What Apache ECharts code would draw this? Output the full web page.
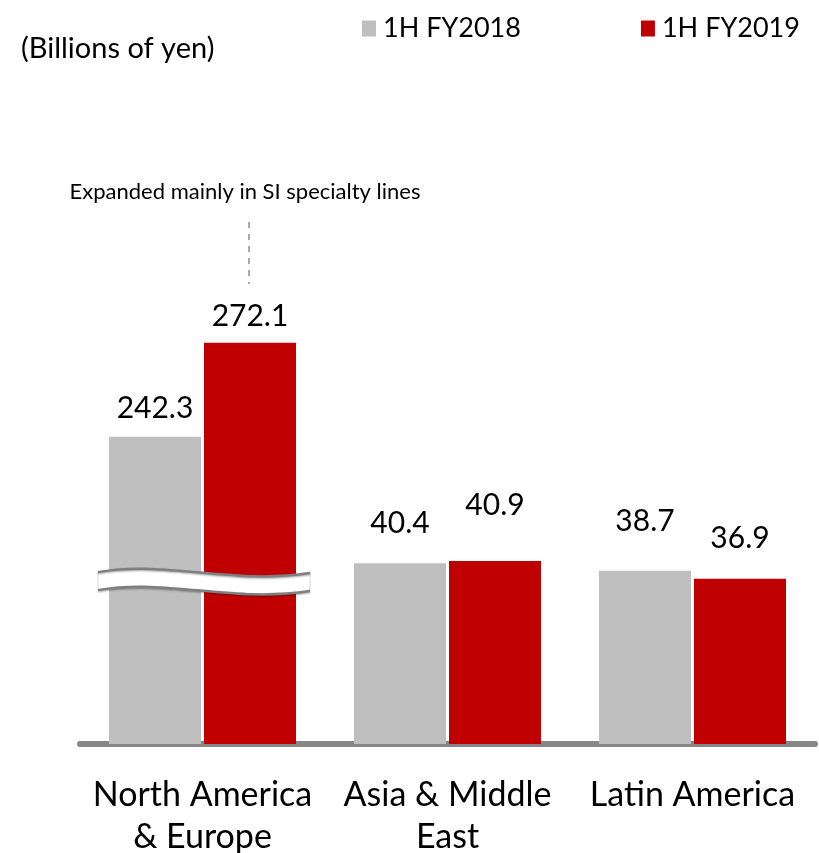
<!DOCTYPE html>
<html>
<head>
<meta charset="utf-8">
<script src="https://cdn.jsdelivr.net/npm/echarts@6/dist/echarts.min.js"></script>
<style>
  html, body { margin: 0; padding: 0; background: #fff; }
  #chart { width: 819px; height: 853px; }
</style>
</head>
<body>
<div id="chart"></div>
<script>
// Overseas net premiums by region, billions of yen
const categories = ['North America\n& Europe', 'Asia & Middle\nEast', 'Latin America'];
const seriesNames = ['1H FY2018', '1H FY2019'];
const fy2018 = [242.3, 40.4, 38.7];
const fy2019 = [272.1, 40.9, 36.9];

// Broken value axis: lower segment for the small regions, upper segment for the large one
const lowerRange = [0, 60];
const upperRange = [225, 290];
const breakValue = 36.4; // where the wavy break sits on the lower segment
const bigIndex = 0;       // category drawn across the break

// Extra lift (px) of each value label above its bar
const labelLift = [
  [3, 15, 24],
  [1, 31, 16]
];

const FONT = 'Lato';
const colors = ['#BFBFBF', '#C00000'];
const BAR_W = 92;
const BAR_GAP = 3;

const chart = echarts.init(document.getElementById('chart'), null, { renderer: 'canvas' });

function lowerData(values, s) {
  return values.map((v, i) => i === bigIndex
    ? { value: v, label: { show: false } }
    : { value: v, label: { distance: 10 + labelLift[s][i] } });
}
function upperData(values, s) {
  return values.map((v, i) => i === bigIndex
    ? { value: v, label: { distance: 10 + labelLift[s][i] } }
    : '-');
}

const labelStyle = {
  show: true,
  position: 'top',
  distance: 10,
  fontFamily: FONT,
  fontSize: 30,
  color: '#000'
};

function barSeries(name, color, data, axisIndex) {
  return {
    name: name,
    type: 'bar',
    xAxisIndex: axisIndex,
    yAxisIndex: axisIndex,
    data: data,
    barWidth: BAR_W,
    barGap: (BAR_GAP / BAR_W * 100) + '%',
    itemStyle: { color: color },
    label: labelStyle,
    clip: true,
    silent: true
  };
}

const option = {
  animation: false,
  backgroundColor: '#fff',
  textStyle: { fontFamily: FONT },
  title: {
    text: '(Billions of yen)',
    left: 16,
    top: 29,
    textStyle: { fontFamily: FONT, fontSize: 29, fontWeight: 'normal', color: '#000' }
  },
  legend: {
    data: seriesNames,
    left: 357,
    top: 10,
    icon: 'rect',
    itemWidth: 14,
    itemHeight: 16,
    itemGap: 120,
    textStyle: { fontFamily: FONT, fontSize: 27, color: '#000', padding: [0, 0, 0, 2] }
  },
  grid: [
    { left: 80, width: 735, top: 475.5, bottom: 109, outerBoundsMode: 'none', containLabel: false },
    { left: 80, width: 735, top: 286.2, bottom: 361.7, outerBoundsMode: 'none', containLabel: false }
  ],
  xAxis: [
    {
      type: 'category',
      gridIndex: 0,
      data: categories,
      axisLine: { show: true, lineStyle: { color: '#878787', width: 6 } },
      axisTick: { show: false },
      axisLabel: {
        fontFamily: FONT,
        fontSize: 34,
        lineHeight: 42,
        color: '#000',
        margin: 30,
        interval: 0
      }
    },
    {
      type: 'category',
      gridIndex: 1,
      data: categories,
      show: false
    }
  ],
  yAxis: [
    { type: 'value', gridIndex: 0, min: lowerRange[0], max: lowerRange[1], show: false, splitLine: { show: false } },
    { type: 'value', gridIndex: 1, min: upperRange[0], max: upperRange[1], show: false, splitLine: { show: false } }
  ],
  series: [
    barSeries(seriesNames[0], colors[0], lowerData(fy2018, 0), 0),
    barSeries(seriesNames[1], colors[1], lowerData(fy2019, 1), 0),
    barSeries(seriesNames[0], colors[0], upperData(fy2018, 0), 1),
    barSeries(seriesNames[1], colors[1], upperData(fy2019, 1), 1)
  ]
};

chart.setOption(option);

// Wavy break marker across the large category, plus the annotation above it
function cubic(p0, p1, p2, p3, t) {
  const u = 1 - t;
  return u * u * u * p0 + 3 * u * u * t * p1 + 3 * u * t * t * p2 + t * t * t * p3;
}
function wave(cx, cy, dy) {
  return {
    x1: cx - 106, y1: cy - 9 + dy,
    cpx1: cx - 34, cpy1: cy - 21 + dy,
    cpx2: cx + 26, cpy2: cy + 4 + dy,
    x2: cx + 106, y2: cy - 8 + dy
  };
}

const center = chart.convertToPixel({ gridIndex: 0 }, [bigIndex, breakValue]);
const cx = center[0] + 1.5;
const cy = center[1];
const waveTop = wave(cx, cy, 0);
const waveBottom = wave(cx, cy, 18);
const pts = [];
for (let i = 0; i <= 40; i++) {
  const t = i / 40;
  pts.push([cubic(waveTop.x1, waveTop.cpx1, waveTop.cpx2, waveTop.x2, t), cubic(waveTop.y1, waveTop.cpy1, waveTop.cpy2, waveTop.y2, t)]);
}
for (let i = 40; i >= 0; i--) {
  const t = i / 40;
  pts.push([cubic(waveBottom.x1, waveBottom.cpx1, waveBottom.cpx2, waveBottom.x2, t), cubic(waveBottom.y1, waveBottom.cpy1, waveBottom.cpy2, waveBottom.y2, t)]);
}

const edgeStyle = {
  fill: null,
  stroke: '#7F7F7F',
  lineWidth: 2.5,
  shadowBlur: 2,
  shadowColor: 'rgba(0,0,0,0.35)',
  shadowOffsetY: 1
};

chart.setOption({
  graphic: [
    { type: 'polygon', shape: { points: pts }, style: { fill: '#fff', stroke: '#D9D9D9', lineWidth: 1 }, z: 100 },
    { type: 'bezierCurve', shape: waveTop, style: edgeStyle, z: 101 },
    { type: 'bezierCurve', shape: waveBottom, style: edgeStyle, z: 101 },
    {
      type: 'line',
      shape: { x1: 249, y1: 222, x2: 249, y2: 284 },
      style: { stroke: '#8C8C8C', lineWidth: 1.5, lineDash: [6, 6] },
      z: 100
    },
    {
      type: 'text',
      x: 245,
      y: 192,
      style: {
        text: 'Expanded mainly in SI specialty lines',
        fontFamily: FONT,
        fontSize: 22,
        fill: '#000',
        align: 'center',
        verticalAlign: 'middle'
      },
      z: 100
    }
  ]
});
</script>
</body>
</html>
